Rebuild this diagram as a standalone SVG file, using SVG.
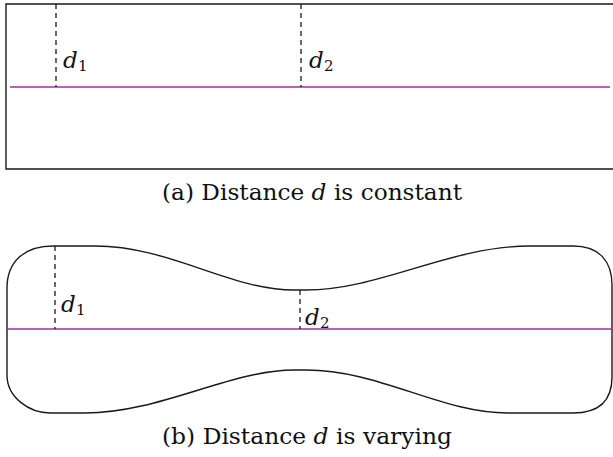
<svg xmlns="http://www.w3.org/2000/svg" width="613" height="457" viewBox="0 0 613 457">
<style>
.frame{fill:none;stroke:#1a1a1a;stroke-width:1.4}
.axis{fill:none;stroke:#a22ca2;stroke-width:1.4}
.dash{fill:none;stroke:#1a1a1a;stroke-width:1.3;stroke-dasharray:5 4}
text{font-family:"DejaVu Serif",serif;fill:#111}
.math{font-style:italic;font-size:23px}
.sub{font-size:15px}
.cap{font-size:23px}
</style>
<rect width="613" height="457" fill="#fff"/>
<g id="panel-a">
  <path class="frame" d="M620,4 H6 V169 H620"/>
  <line class="axis" x1="10" y1="87" x2="610" y2="87"/>
  <g class="connectors">
    <line class="dash" x1="56" y1="4" x2="56" y2="87"/>
    <line class="dash" x1="301" y1="4" x2="301" y2="87"/>
  </g>
  <g id="a-d1"><text class="math" x="63" y="68">d</text><text class="sub" x="78" y="71">1</text></g>
  <g id="a-d2"><text class="math" x="309" y="68">d</text><text class="sub" x="324" y="71">2</text></g>
  <text class="cap" x="162" y="200" textLength="300" lengthAdjust="spacingAndGlyphs">(a) Distance <tspan font-style="italic">d</tspan> is constant</text>
</g>
<g id="panel-b">
  <path class="frame" d="M7,329 V288 C7,262 24,246 53,246 H95 C170,246 230,290 294,290 H306 C380,290 450,246 530,246 H573 C600,246 612,262 612,285 V377 C612,400 600,413 573,413 H508 C440,413 380,370 306,370 H294 C230,370 160,413 85,413 H50 C30,413 7,398 7,375 Z"/>
  <line class="axis" x1="7" y1="329" x2="613" y2="329"/>
  <g class="connectors">
    <line class="dash" x1="55" y1="246" x2="55" y2="329"/>
    <line class="dash" x1="300" y1="290" x2="300" y2="329"/>
  </g>
  <g id="b-d1"><text class="math" x="61" y="312">d</text><text class="sub" x="76" y="315">1</text></g>
  <g id="b-d2"><text class="math" x="305" y="325">d</text><text class="sub" x="320" y="328">2</text></g>
  <text class="cap" x="162" y="444" textLength="290" lengthAdjust="spacingAndGlyphs">(b) Distance <tspan font-style="italic">d</tspan> is varying</text>
</g>
</svg>
